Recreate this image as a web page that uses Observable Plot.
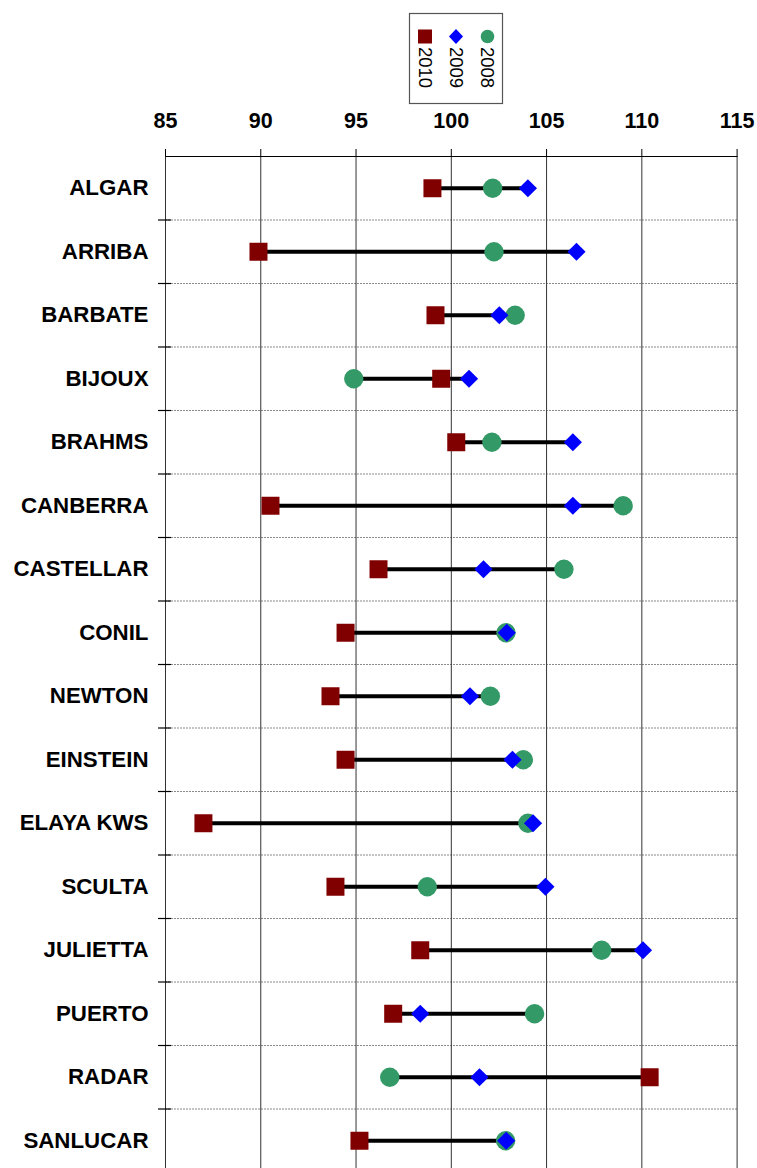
<!DOCTYPE html>
<html>
<head>
<meta charset="utf-8">
<script src="https://cdn.jsdelivr.net/npm/d3@7"></script>
<script src="https://cdn.jsdelivr.net/npm/@observablehq/plot@0.6"></script>
<style>
  html, body { margin: 0; padding: 0; background: #fff; overflow: hidden; }
  #wrap { position: relative; width: 757px; height: 1168px; }
  #legend { position: absolute; left: 0; top: 0; pointer-events: none; }
  svg { font-family: "Liberation Sans", Arial, sans-serif; }
</style>
</head>
<body>
<div id="wrap"></div>
<script>
const categories = ["ALGAR","ARRIBA","BARBATE","BIJOUX","BRAHMS","CANBERRA","CASTELLAR","CONIL","NEWTON","EINSTEIN","ELAYA KWS","SCULTA","JULIETTA","PUERTO","RADAR","SANLUCAR"];
const v2010 = [99.01, 89.88, 99.17, 99.47, 100.26, 90.51, 96.18, 94.45, 93.66, 94.45, 86.99, 93.92, 98.37, 96.95, 110.41, 95.18];
const v2009 = [104.02, 106.57, 102.52, 100.93, 106.38, 106.38, 101.69, 102.91, 100.98, 103.21, 104.29, 104.94, 110.06, 98.37, 101.48, 102.88];
const v2008 = [102.17, 102.24, 103.35, 94.88, 102.13, 109.02, 105.91, 102.87, 102.05, 103.78, 104.02, 98.74, 107.89, 104.37, 96.77, 102.85];
const xTicks = [85, 90, 95, 100, 105, 110, 115];
const seriesNames = ["2010", "2009", "2008"];
const seriesColors = ["#800000", "#0000ff", "#339966"];

const idx = categories.map((_, i) => i);
const rows = idx.map(i => ({
  i, name: categories[i],
  lo: Math.min(v2010[i], v2009[i], v2008[i]),
  hi: Math.max(v2010[i], v2009[i], v2008[i])
}));
const boundaries = idx.slice(1).map(i => i - 0.5);
const pts = (vals) => idx.map(i => ({i, v: vals[i]}));

const chart = Plot.plot({
  width: 757,
  height: 1168,
  marginTop: 156,
  marginLeft: 165,
  marginRight: 20,
  marginBottom: 0,
  x: {domain: [85, 115], range: [165, 736.6]},
  y: {domain: [-0.5, 15.5], range: [156, 1172]},
  style: {fontFamily: "Liberation Sans, Arial, sans-serif", color: "#000", background: "#fff"},
  marks: [
    Plot.ruleY(boundaries, {y: d => d, stroke: "#8a8a8a", strokeWidth: 1.2, strokeDasharray: "2,1"}),
    Plot.ruleX(xTicks, {x: d => d, stroke: "#333", strokeWidth: 1}),
    Plot.ruleY(boundaries, {y: d => d, x1: 85 - 7 / 19.06, x2: 85 + 6 / 19.06, stroke: "#000", strokeWidth: 1.2}),
    Plot.ruleY([-0.5], {y: d => d, stroke: "#000", strokeWidth: 1.2}),
    Plot.axisX(xTicks, {anchor: "top", tickSize: 8, tickPadding: 21, fontSize: 21.5, fontWeight: "bold", label: null, stroke: "#000"}),
    Plot.axisY(idx, {anchor: "left", tickSize: 0, tickPadding: 17, tickFormat: i => categories[i], fontSize: 22.3, fontWeight: "bold", label: null}),
    Plot.ruleY(rows, {y: "i", x1: "lo", x2: "hi", stroke: "#000", strokeWidth: 4}),
    Plot.dot(pts(v2010), {x: "v", y: "i", symbol: "square", r: 18 / Math.sqrt(Math.PI), fill: seriesColors[0], stroke: "none"}),
    Plot.dot(pts(v2008), {x: "v", y: "i", symbol: "circle", r: 9.7, fill: seriesColors[2], stroke: "none"}),
    Plot.dot(pts(v2009), {x: "v", y: "i", symbol: "diamond2", r: 9.1 / 0.62625 / Math.sqrt(Math.PI), fill: seriesColors[1], stroke: "none"})
  ]
});
document.getElementById("wrap").appendChild(chart);

// Legend (above the plot area)
const lg = d3.select("#wrap").append("svg").attr("id", "legend").attr("width", 757).attr("height", 110);
lg.append("rect").attr("x", 409.5).attr("y", 13.5).attr("width", 93).attr("height", 90)
  .attr("fill", "#fff").attr("stroke", "#555").attr("stroke-width", 1.2);
const cx = [425, 456, 487.5];
lg.append("rect").attr("x", cx[0] - 7).attr("y", 29.5).attr("width", 14).attr("height", 14).attr("fill", seriesColors[0]);
lg.append("path").attr("d", `M${cx[1]},29 L${cx[1] + 7},36.5 L${cx[1]},44 L${cx[1] - 7},36.5 Z`).attr("fill", seriesColors[1]);
lg.append("circle").attr("cx", cx[2]).attr("cy", 36.5).attr("r", 6.8).attr("fill", seriesColors[2]);
seriesNames.forEach((s, k) => {
  lg.append("text").attr("transform", `translate(${cx[k]},47) rotate(90)`)
    .attr("dominant-baseline", "central").attr("font-size", 18.5)
    .attr("font-family", "Liberation Sans, Arial, sans-serif").attr("fill", "#000").text(s);
});
</script>
</body>
</html>
